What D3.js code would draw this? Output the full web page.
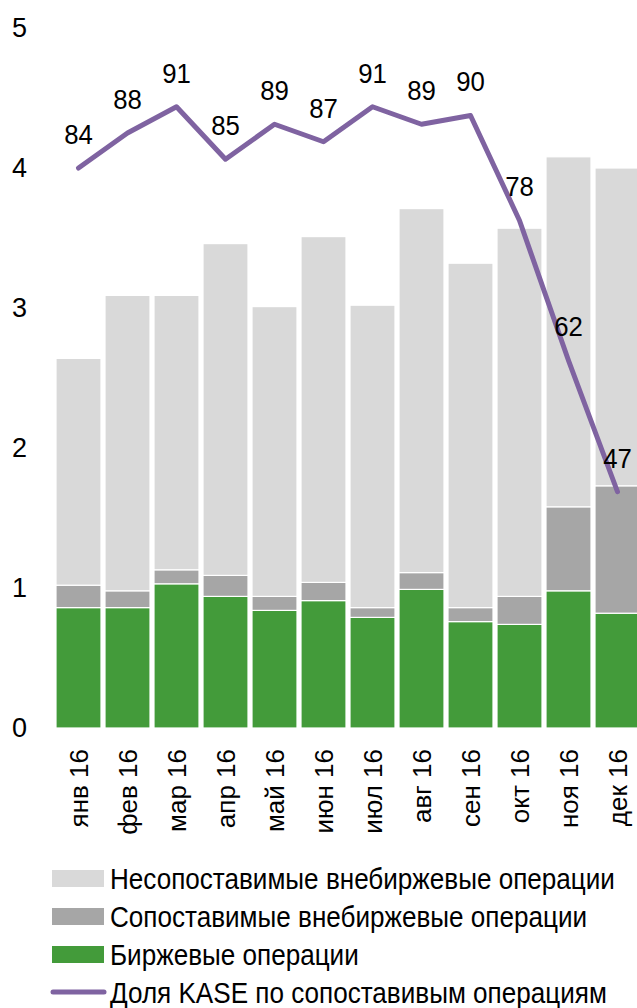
<!DOCTYPE html>
<html>
<head>
<meta charset="utf-8">
<script src="https://cdn.jsdelivr.net/npm/d3@7"></script>
<style>
  body { margin: 0; background: #fff; }
  text { font-family: "Liberation Sans", Arial, sans-serif; fill: #000; }
</style>
</head>
<body>
<script>
// Data
const months = ["янв 16", "фев 16", "мар 16", "апр 16", "май 16", "июн 16",
                "июл 16", "авг 16", "сен 16", "окт 16", "ноя 16", "дек 16"];
const exchange = [0.86, 0.86, 1.03, 0.94, 0.84, 0.91, 0.79, 0.99, 0.76, 0.74, 0.98, 0.82];
const comparableOtc = [0.16, 0.12, 0.10, 0.15, 0.10, 0.13, 0.07, 0.12, 0.10, 0.20, 0.60, 0.91];
const nonComparableOtc = [1.62, 2.11, 1.96, 2.37, 2.07, 2.47, 2.16, 2.60, 2.46, 2.63, 2.50, 2.27];
const kaseShare = [84, 88, 91, 85, 89, 87, 91, 89, 90, 78, 62, 47];
const yTicks = [0, 1, 2, 3, 4, 5];

const seriesNames = ["Несопоставимые внебиржевые операции", "Сопоставимые внебиржевые операции",
                     "Биржевые операции", "Доля KASE по сопоставивым операциям"];
const colors = ["#d9d9d9", "#a6a6a6", "#439b3a", "#7f63a1"];

const width = 637, height = 1008;

const svg = d3.select("body").append("svg")
    .attr("width", width)
    .attr("height", height);

const x = d3.scaleBand()
    .domain(months)
    .range([54, 642])
    .paddingInner(4 / 49)
    .paddingOuter(2 / 49);

const y = d3.scaleLinear().domain([0, 5]).range([728, 28]);
// hidden secondary axis for the KASE share (%)
const y2 = d3.scaleLinear().domain([20, 100]).range([728, 28]);

// stacked bars
const table = months.map((m, i) => ({
    month: m,
    exchange: exchange[i],
    comparable: comparableOtc[i],
    noncomparable: nonComparableOtc[i]
}));
const keys = ["exchange", "comparable", "noncomparable"];
const keyColor = { exchange: colors[2], comparable: colors[1], noncomparable: colors[0] };
const stacked = d3.stack().keys(keys)(table);

svg.append("g")
    .selectAll("g")
    .data(stacked)
    .join("g")
    .attr("fill", d => keyColor[d.key])
    .selectAll("rect")
    .data(d => d)
    .join("rect")
    .attr("x", d => x(d.data.month))
    .attr("width", x.bandwidth())
    .attr("y", d => y(d[1]))
    .attr("height", d => y(d[0]) - y(d[1]))
    .attr("stroke", "#fff")
    .attr("stroke-width", 1.2);

// y axis labels
const yAxis = svg.append("g")
    .attr("transform", "translate(27,0)")
    .call(d3.axisLeft(y).tickValues(yTicks).tickSize(0).tickPadding(0).tickFormat(d3.format("d")));
yAxis.select(".domain").remove();
yAxis.selectAll("text")
    .style("font-size", "27px")
    .style("font-family", "'Liberation Sans', Arial, sans-serif");

// x axis labels (rotated)
const xAxis = svg.append("g")
    .attr("transform", "translate(0,728)")
    .call(d3.axisBottom(x).tickSize(0).tickPadding(0));
xAxis.select(".domain").remove();
xAxis.selectAll("text")
    .style("font-size", "26px")
    .style("font-family", "'Liberation Sans', Arial, sans-serif")
    .attr("text-anchor", "end")
    .attr("transform", "rotate(-90)")
    .attr("x", -21)
    .attr("y", 0)
    .attr("dy", "0.35em");

// KASE line
const line = d3.line()
    .x((d, i) => x(months[i]) + x.bandwidth() / 2)
    .y(d => y2(d));

svg.append("path")
    .datum(kaseShare)
    .attr("d", line)
    .attr("fill", "none")
    .attr("stroke", colors[3])
    .attr("stroke-width", 5)
    .attr("stroke-linejoin", "round")
    .attr("stroke-linecap", "round");

const labels = svg.append("g")
    .selectAll("text")
    .data(kaseShare)
    .join("text")
    .attr("x", (d, i) => x(months[i]) + x.bandwidth() / 2)
    .attr("y", d => y2(d) - 24)
    .attr("text-anchor", "middle")
    .style("font-size", "28px")
    .text(d => d);
// original digits are a touch narrow
labels.attr("transform", function () {
    const cx = +d3.select(this).attr("x");
    return `translate(${cx},0) scale(0.92,1) translate(${-cx},0)`;
});

// legend
const legend = svg.append("g");
const rowY = [878.5, 916.5, 954.5, 992];
seriesNames.forEach((name, i) => {
    const g = legend.append("g").attr("transform", `translate(0,${rowY[i]})`);
    if (i < 3) {
        g.append("rect")
            .attr("x", 52).attr("y", -8.5)
            .attr("width", 52).attr("height", 17)
            .attr("fill", colors[i]);
    } else {
        g.append("line")
            .attr("x1", 53).attr("x2", 104)
            .attr("stroke", colors[3])
            .attr("stroke-width", 5)
            .attr("stroke-linecap", "round");
    }
    g.append("text")
        .attr("x", 110)
        .attr("dy", "0.36em")
        .style("font-size", "30px")
        .text(name);
});

// condense legend text so the first entry spans like the original
const legendTexts = legend.selectAll("text");
const firstLen = legendTexts.node().getComputedTextLength();
const squeeze = 505 / firstLen;
legendTexts.attr("transform", `translate(110,0) scale(${squeeze},1) translate(-110,0)`);
</script>
</body>
</html>
